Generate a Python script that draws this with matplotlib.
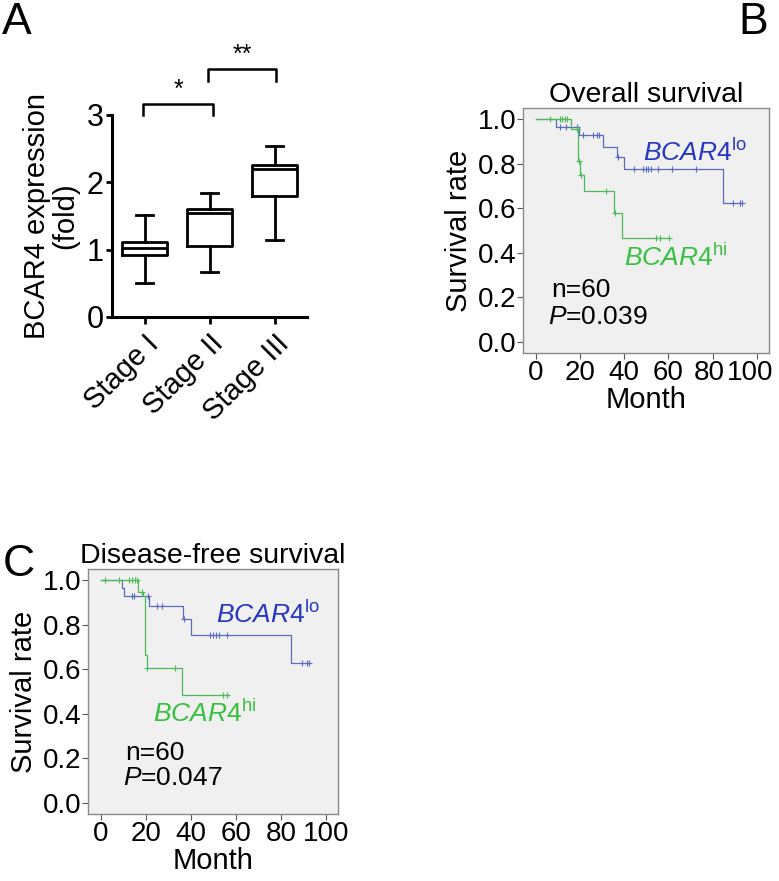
import numpy as np
import matplotlib
matplotlib.use("Agg")
import matplotlib.pyplot as plt
from matplotlib.transforms import ScaledTranslation

plt.rcParams['font.family'] = ['Liberation Sans', 'DejaVu Sans']
plt.rcParams['mathtext.fontset'] = 'custom'
plt.rcParams['mathtext.rm'] = 'Liberation Sans'
plt.rcParams['mathtext.it'] = 'Liberation Sans:italic'

# ---- panel A data (box plot summary, fold expression) ----
stages = ['Stage I', 'Stage II', 'Stage III']
whis_low = [0.50, 0.67, 1.15]
q1 = [0.92, 1.06, 1.80]
median = [1.02, 1.54, 2.20]
q3 = [1.11, 1.61, 2.26]
whis_high = [1.51, 1.84, 2.54]

# ---- Kaplan-Meier step data ----
# overall survival
os_lo_times = [0, 9.4, 19.6, 30.5, 36.8, 39.8, 84.5, 93]
os_lo_surv = [1.0, 0.966, 0.93, 0.876, 0.828, 0.776, 0.622, 0.622]
os_lo_cens = [11, 13.5, 18.7, 21.4, 26, 27.5, 28.7, 37, 44.3, 48.6, 49.8, 50.8,
              52, 55.4, 61.7, 72.4, 89.3, 92.3, 93]
os_hi_times = [0, 15.8, 19.2, 20.2, 21.7, 35.3, 38.8, 60.3]
os_hi_surv = [1.0, 0.954, 0.81, 0.749, 0.679, 0.58, 0.465, 0.465]
os_hi_cens = [6.3, 11.2, 12, 13.1, 14.2, 18.5, 19.5, 20.6, 32, 36, 54.3, 56.1, 60.3]

# disease-free survival
dfs_lo_times = [0, 9.5, 10.5, 21.4, 36.6, 40.2, 84.6, 92.6]
dfs_lo_surv = [1.0, 0.964, 0.929, 0.884, 0.824, 0.753, 0.628, 0.628]
dfs_lo_cens = [14, 14.8, 21, 25, 27.3, 37, 48.3, 49.8, 51, 52.4, 56.1, 89.4, 91.6, 92.6]
dfs_hi_times = [0, 16.7, 18.8, 19.5, 20.7, 36.2, 57]
dfs_hi_surv = [1.0, 0.949, 0.93, 0.666, 0.605, 0.485, 0.485]
dfs_hi_cens = [1.8, 8.1, 12.6, 14, 15.2, 16.2, 18.5, 20.7, 32.8, 54.4, 56.1]

LINE_LO = '#5a6bc0'
LINE_HI = '#4cbb55'
TXT_LO = '#2438c0'
TXT_HI = '#38c040'

fig = plt.figure(figsize=(7.79, 8.81), dpi=100)

# ================= Panel A =================
axA = fig.add_axes([0.1438, 0.6402, 0.2503, 0.2293])
stats = []
for i in range(3):
    stats.append(dict(med=median[i], q1=q1[i], q3=q3[i],
                      whislo=whis_low[i], whishi=whis_high[i], fliers=[]))
lw = 2.0
axA.bxp(stats, positions=[1, 2, 3], widths=0.68, capwidths=0.26, showfliers=False,
        boxprops=dict(linewidth=lw, color='black'),
        medianprops=dict(linewidth=lw, color='black'),
        whiskerprops=dict(linewidth=lw, color='black'),
        capprops=dict(linewidth=lw, color='black'))
axA.set_xlim(0.5, 3.5)
axA.set_ylim(0, 3)
axA.set_yticks([0, 1, 2, 3])
axA.set_xticks([1, 2, 3])
axA.set_xticklabels(stages, rotation=45, ha='right', rotation_mode='anchor', fontsize=21)
shift = ScaledTranslation(7 / 72, -2 / 72, fig.dpi_scale_trans)
for lab in axA.get_xticklabels():
    lab.set_transform(lab.get_transform() + shift)
axA.tick_params(axis='y', labelsize=22, width=2, length=4, pad=2)
axA.tick_params(axis='x', width=2, length=5, pad=4)
for s in ['top', 'right']:
    axA.spines[s].set_visible(False)
for s in ['left', 'bottom']:
    axA.spines[s].set_linewidth(2.2)
axA.set_ylabel('BCAR4 expression\n(fold)', fontsize=21, linespacing=1.05, labelpad=5)

# significance brackets
axA.plot([0.98, 0.98, 2.05, 2.05], [3.0, 3.17, 3.17, 3.0], color='black', lw=1.8, clip_on=False)
axA.text(1.52, 3.2, '*', ha='center', va='bottom', fontsize=18)
axA.plot([1.98, 1.98, 3.02, 3.02], [3.5, 3.69, 3.69, 3.5], color='black', lw=1.8, clip_on=False)
axA.text(2.5, 3.72, '**', ha='center', va='bottom', fontsize=18)


def km(ax, times, surv, cens, color):
    ax.step(times, surv, where='post', color=color, lw=0.9)
    idx = np.searchsorted(times, cens, side='right') - 1
    ax.plot(cens, np.array(surv)[idx], '+', color=color, ms=4, mew=0.8)


def style_km(ax, title):
    ax.set_facecolor('#f0f0f0')
    for s in ax.spines.values():
        s.set_color('#8a8a8a')
        s.set_linewidth(1.0)
    ax.set_xlim(-5.7, 105.4)
    ax.set_ylim(-0.05, 1.05)
    ax.set_xticks([0, 20, 40, 60, 80, 100])
    ax.set_yticks([0, 0.2, 0.4, 0.6, 0.8, 1.0])
    ax.set_yticklabels(['0.0', '0.2', '0.4', '0.6', '0.8', '1.0'])
    ax.tick_params(labelsize=20, length=4, width=0.8, color='#555555', pad=1)
    ax.set_title(title, fontsize=20.5, pad=4)
    ax.set_xlabel('Month', fontsize=21, labelpad=0)
    ax.set_ylabel('Survival rate', fontsize=21, labelpad=3)


# ================= Panel B =================
axB = fig.add_axes([0.6714, 0.5993, 0.3158, 0.2781])
km(axB, os_lo_times, os_lo_surv, os_lo_cens, LINE_LO)
km(axB, os_hi_times, os_hi_surv, os_hi_cens, LINE_HI)
style_km(axB, 'Overall survival')
# last x labels sit a little left so "100" stays inside the figure
xl = axB.get_xticklabels()
xl[-2].set_transform(xl[-2].get_transform() + ScaledTranslation(-4 / 100, 0, fig.dpi_scale_trans))
xl[-1].set_transform(xl[-1].get_transform() + ScaledTranslation(-7 / 100, 0, fig.dpi_scale_trans))
axB.text(48.5, 0.85, r'$BCAR4^{\mathrm{lo}}$', color=TXT_LO, fontsize=19, va='center')
axB.text(40, 0.377, r'$BCAR4^{\mathrm{hi}}$', color=TXT_HI, fontsize=19, va='center')
axB.text(7.2, 0.233, 'n=60', fontsize=19, va='center')
axB.text(5.4, 0.112, r'$P$=0.039', fontsize=19, va='center')

# ================= Panel C =================
axC = fig.add_axes([0.1130, 0.0760, 0.3209, 0.2781])
km(axC, dfs_lo_times, dfs_lo_surv, dfs_lo_cens, LINE_LO)
km(axC, dfs_hi_times, dfs_hi_surv, dfs_hi_cens, LINE_HI)
style_km(axC, 'Disease-free survival')
axC.text(51, 0.846, r'$BCAR4^{\mathrm{lo}}$', color=TXT_LO, fontsize=19, va='center')
axC.text(23, 0.40, r'$BCAR4^{\mathrm{hi}}$', color=TXT_HI, fontsize=19, va='center')
axC.text(11, 0.226, 'n=60', fontsize=19, va='center')
axC.text(9.7, 0.113, r'$P$=0.047', fontsize=19, va='center')

# panel letters
fig.text(0.003, 0.998, 'A', fontsize=32, va='top', ha='left')
fig.text(0.948, 0.998, 'B', fontsize=32, va='top', ha='left')
fig.text(0.003, 0.383, 'C', fontsize=32, va='top', ha='left')

fig.savefig('out.png', dpi=100)
